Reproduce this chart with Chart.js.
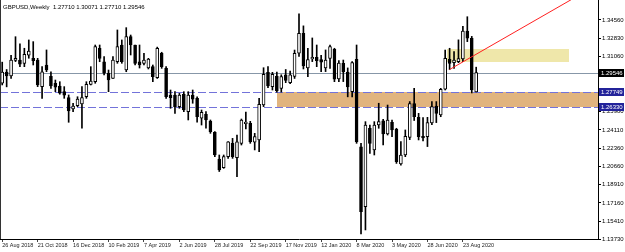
<!DOCTYPE html>
<html>
<head>
<meta charset="utf-8">
<script src="https://cdn.jsdelivr.net/npm/chart.js@4.4.0/dist/chart.umd.min.js"></script>
<style>
  html, body { margin: 0; padding: 0; background: #fff; }
  canvas { display: block; }
</style>
</head>
<body>
<canvas id="chart" width="625" height="252"></canvas>
<script>
const symbolTitle = "GBPUSD,Weekly";

// one label every 8 weeks, first week = 26 Aug 2018
const tickLabels = [
  "26 Aug 2018", "21 Oct 2018", "16 Dec 2018", "10 Feb 2019", "7 Apr 2019",
  "2 Jun 2019", "28 Jul 2019", "22 Sep 2019", "17 Nov 2019", "12 Jan 2020",
  "8 Mar 2020", "3 May 2020", "28 Jun 2020", "23 Aug 2020"
];

const opens = [
  1.2855, 1.2960, 1.2925, 1.3072, 1.3075, 1.3044, 1.3122, 1.3092, 1.3075, 1.2822,
  1.3028, 1.2919, 1.2854, 1.2828, 1.2774, 1.2717, 1.2609, 1.2641, 1.2657, 1.2727,
  1.2844, 1.2869, 1.3187, 1.3059, 1.2949, 1.2901, 1.3059, 1.3218, 1.2980, 1.3297,
  1.3218, 1.3059, 1.3044, 1.3000, 1.3012, 1.2907, 1.3139, 1.2996, 1.2742, 1.2742,
  1.2631, 1.2750, 1.2584, 1.2742, 1.2711, 1.2521, 1.2559, 1.2495, 1.2388, 1.2134,
  1.2051, 1.2156, 1.2283, 1.2146, 1.2283, 1.2470, 1.2473, 1.2293, 1.2315, 1.2648,
  1.2958, 1.2822, 1.2923, 1.2806, 1.2935, 1.2860, 1.2920, 1.3140, 1.3330, 1.2999,
  1.3085, 1.3100, 1.3080, 1.2999, 1.3091, 1.3177, 1.2895, 1.3044, 1.2960, 1.2775,
  1.3082, 1.2250, 1.1680, 1.2426, 1.2220, 1.2457, 1.2498, 1.2372, 1.2483, 1.2416,
  1.2086, 1.2172, 1.2340, 1.2660, 1.2530, 1.2350, 1.2346, 1.2476, 1.2638, 1.2553,
  1.2797, 1.3082, 1.3050, 1.3060, 1.3085, 1.3350, 1.3282, 1.27710
];
const highs = [
  1.3055, 1.2985, 1.3120, 1.3297, 1.3230, 1.3187, 1.3266, 1.3250, 1.3091, 1.3012,
  1.3171, 1.2964, 1.2885, 1.2869, 1.2822, 1.2743, 1.2664, 1.2726, 1.2822, 1.2869,
  1.3012, 1.3218, 1.3218, 1.3107, 1.2980, 1.3107, 1.3361, 1.3266, 1.3383, 1.3313,
  1.3218, 1.3218, 1.3139, 1.3091, 1.3028, 1.3198, 1.3149, 1.3012, 1.2790, 1.2774,
  1.2758, 1.2774, 1.2774, 1.2790, 1.2726, 1.2600, 1.2584, 1.2505, 1.2394, 1.2172,
  1.2172, 1.2300, 1.2330, 1.2362, 1.2514, 1.2580, 1.2492, 1.2378, 1.2711, 1.3002,
  1.3012, 1.2958, 1.2960, 1.2935, 1.2985, 1.2970, 1.3170, 1.3515, 1.3400, 1.3187,
  1.3285, 1.3218, 1.3120, 1.3171, 1.3218, 1.3187, 1.3070, 1.3075, 1.3000, 1.3060,
  1.3218, 1.2283, 1.2489, 1.2457, 1.2489, 1.2664, 1.2511, 1.2647, 1.2505, 1.2426,
  1.2300, 1.2410, 1.2680, 1.2806, 1.2568, 1.2527, 1.2530, 1.2680, 1.2680, 1.2806,
  1.3170, 1.3187, 1.3155, 1.3267, 1.3395, 1.3487, 1.3300, 1.30071
];
const lows = [
  1.2838, 1.2820, 1.2900, 1.3060, 1.3012, 1.3012, 1.3092, 1.3028, 1.2822, 1.2711,
  1.2964, 1.2806, 1.2774, 1.2750, 1.2711, 1.2483, 1.2584, 1.2631, 1.2426, 1.2711,
  1.2838, 1.2854, 1.3059, 1.2933, 1.2774, 1.2901, 1.3044, 1.3044, 1.2964, 1.3123,
  1.3028, 1.2999, 1.3028, 1.2990, 1.2869, 1.2900, 1.2996, 1.2711, 1.2616, 1.2568,
  1.2616, 1.2584, 1.2505, 1.2664, 1.2483, 1.2457, 1.2426, 1.2378, 1.2156, 1.2015,
  1.2045, 1.2140, 1.2140, 1.1966, 1.2267, 1.2420, 1.2283, 1.2220, 1.2203, 1.2632,
  1.2812, 1.2790, 1.2770, 1.2770, 1.2860, 1.2850, 1.2900, 1.3110, 1.2990, 1.2917,
  1.3060, 1.3012, 1.2965, 1.2965, 1.2996, 1.2869, 1.2870, 1.2870, 1.2725, 1.2725,
  1.2283, 1.1421, 1.1459, 1.2188, 1.2172, 1.2426, 1.2267, 1.2362, 1.2346, 1.2092,
  1.2076, 1.2156, 1.2318, 1.2500, 1.2315, 1.2305, 1.2252, 1.2460, 1.2480, 1.2536,
  1.2790, 1.2985, 1.2996, 1.3050, 1.3060, 1.3250, 1.2762, 1.27710
];
const closes = [
  1.2960, 1.2925, 1.3075, 1.3092, 1.3035, 1.3130, 1.3160, 1.3069, 1.2838, 1.2964,
  1.2980, 1.2828, 1.2816, 1.2759, 1.2742, 1.2590, 1.2637, 1.2704, 1.2719, 1.2844,
  1.2874, 1.3202, 1.3091, 1.2949, 1.2885, 1.3075, 1.3202, 1.3059, 1.3297, 1.3218,
  1.3044, 1.3028, 1.3075, 1.3085, 1.2917, 1.3187, 1.3012, 1.2726, 1.2717, 1.2631,
  1.2742, 1.2600, 1.2742, 1.2704, 1.2536, 1.2578, 1.2505, 1.2394, 1.2172, 1.2029,
  1.2156, 1.2298, 1.2156, 1.2298, 1.2505, 1.2485, 1.2298, 1.2346, 1.2654, 1.2939,
  1.2828, 1.2939, 1.2781, 1.2917, 1.2880, 1.2935, 1.3139, 1.3330, 1.3020, 1.3080,
  1.3100, 1.3070, 1.3055, 1.3075, 1.3202, 1.2892, 1.3045, 1.2964, 1.2820, 1.3050,
  1.2298, 1.1632, 1.2457, 1.2283, 1.2457, 1.2489, 1.2372, 1.2505, 1.2410, 1.2108,
  1.2172, 1.2350, 1.2660, 1.2536, 1.2346, 1.2335, 1.2480, 1.2632, 1.2568, 1.2797,
  1.3091, 1.3044, 1.3075, 1.3090, 1.3350, 1.3282, 1.2790, 1.29546
];

// right price axis
const yTicks = [1.13730, 1.15410, 1.17160, 1.18910, 1.20660, 1.22360, 1.24110,
  1.25900, 1.27590, 1.29310, 1.31060, 1.32830, 1.34560];
const yMin = 1.1373;
const yMax = 1.3646;

// drawn objects
const levelLines = [1.27749, 1.26330];
const orangeZone = { from: 62.1, top: 1.27749, bottom: 1.26330 };
const yellowZone = { from: 100.4, to: 127.9, top: 1.3177, bottom: 1.3053 };
const trendLine = { i1: 101, p1: 1.2985, i2: 106, p2: 1.3106 };

const totalSlots = 135; // weeks incl. empty space on the right
const slots = [];
for (let i = 0; i < totalSlots; i++) {
  slots.push(i % 8 === 0 && tickLabels[i / 8] ? tickLabels[i / 8] : "");
}

const FONT = "'Liberation Sans', Arial, sans-serif";
const last = closes.length - 1;

const overlay = {
  id: "overlay",
  beforeDatasetsDraw(chart) {
    const { ctx, chartArea: a, scales: { x, y } } = chart;
    ctx.save();
    ctx.beginPath();
    ctx.rect(a.left, a.top, a.right - a.left, a.bottom - a.top);
    ctx.clip();

    // zones
    let x0 = x.getPixelForValue(orangeZone.from);
    let t = Math.round(y.getPixelForValue(orangeZone.top));
    let b = Math.round(y.getPixelForValue(orangeZone.bottom));
    ctx.fillStyle = "#e1b47e";
    ctx.fillRect(Math.round(x0), t, a.right - Math.round(x0), b - t);

    x0 = Math.round(x.getPixelForValue(yellowZone.from));
    const x1 = Math.round(x.getPixelForValue(yellowZone.to));
    t = Math.round(y.getPixelForValue(yellowZone.top));
    b = Math.round(y.getPixelForValue(yellowZone.bottom));
    ctx.fillStyle = "#efe7aa";
    ctx.fillRect(x0, t, x1 - x0, b - t);

    // last price line
    const py = Math.round(y.getPixelForValue(closes[last])) + 0.5;
    ctx.strokeStyle = "#8797a8";
    ctx.lineWidth = 1;
    ctx.beginPath();
    ctx.moveTo(a.left, py);
    ctx.lineTo(a.right, py);
    ctx.stroke();

    // dashed levels
    ctx.strokeStyle = "#7373da";
    ctx.setLineDash([8, 3]);
    levelLines.forEach(v => {
      const ly = Math.round(y.getPixelForValue(v)) + 0.5;
      ctx.beginPath();
      ctx.moveTo(a.left, ly);
      ctx.lineTo(a.right, ly);
      ctx.stroke();
    });
    ctx.restore();
  },
  afterDatasetsDraw(chart) {
    const { ctx, chartArea: a, scales: { x, y } } = chart;
    ctx.save();
    ctx.beginPath();
    ctx.rect(a.left, a.top, a.right - a.left, a.bottom - a.top);
    ctx.clip();

    // trend line as a ray
    const ax = x.getPixelForValue(trendLine.i1), ay = y.getPixelForValue(trendLine.p1);
    const bx = x.getPixelForValue(trendLine.i2), by = y.getPixelForValue(trendLine.p2);
    const k = (by - ay) / (bx - ax);
    ctx.strokeStyle = "#ff2020";
    ctx.lineWidth = 1;
    ctx.beginPath();
    ctx.moveTo(ax, ay);
    ctx.lineTo(a.right, ay + k * (a.right - ax));
    ctx.stroke();

    // left frame
    ctx.strokeStyle = "#333";
    ctx.beginPath();
    ctx.moveTo(a.left + 0.5, a.top);
    ctx.lineTo(a.left + 0.5, a.bottom);
    ctx.stroke();

    // title
    ctx.fillStyle = "#000";
    ctx.font = "6px " + FONT;
    ctx.textBaseline = "middle";
    const ohlc = [opens[last], highs[last], lows[last], closes[last]].map(v => v.toFixed(5)).join(" ");
    ctx.fillText(symbolTitle + "  " + ohlc, 3, 7);
    ctx.restore();
  },
  afterDraw(chart) {
    const { ctx, chartArea: a, scales: { y } } = chart;
    ctx.save();
    ctx.font = "6px " + FONT;
    ctx.textBaseline = "middle";
    const tag = (v, bg) => {
      const ty = y.getPixelForValue(v);
      ctx.fillStyle = bg;
      ctx.fillRect(a.right + 1, Math.round(ty) - 4, 25, 8);
      ctx.fillStyle = "#fff";
      ctx.fillText(v.toFixed(5), a.right + 3, ty + 0.5);
    };
    levelLines.forEach(v => tag(v, "#23239a"));
    tag(closes[last], "#000");
    ctx.restore();
  }
};

new Chart(document.getElementById("chart"), {
  type: "bar",
  data: {
    labels: slots,
    datasets: [
      {
        data: opens.map((o, i) => [o, closes[i]]),
        barThickness: 3,
        backgroundColor: opens.map((o, i) => closes[i] >= o ? "#ffffff" : "#000000"),
        borderColor: "#000",
        borderWidth: 1,
        borderSkipped: false,
        minBarLength: 1,
        grouped: false,
        order: 0
      },
      {
        data: lows.map((l, i) => [l, highs[i]]),
        barThickness: 1,
        backgroundColor: "#000",
        borderWidth: 0,
        grouped: false,
        order: 1
      }
    ]
  },
  options: {
    responsive: false,
    animation: false,
    layout: { padding: 0 },
    plugins: { legend: { display: false }, tooltip: { enabled: false } },
    scales: {
      x: {
        type: "category",
        offset: true,
        grid: {
          offset: false,
          drawOnChartArea: false,
          tickLength: 3,
          color: c => (slots[c.index] ? "#444" : "rgba(0,0,0,0)")
        },
        border: { display: true, color: "#000" },
        ticks: {
          autoSkip: false,
          maxRotation: 0,
          minRotation: 0,
          align: "start",
          padding: 0,
          color: "#222",
          font: { size: 5.5, family: FONT },
          callback: (v, i) => slots[i]
        },
        afterFit: s => { s.height = 13; s.paddingLeft = 0; s.paddingRight = 0; }
      },
      y: {
        position: "right",
        min: yMin,
        max: yMax,
        afterBuildTicks: s => { s.ticks = yTicks.map(v => ({ value: v })); },
        grid: { drawOnChartArea: false, tickLength: 3, color: "#000" },
        border: { display: true, color: "#000" },
        ticks: {
          padding: 1,
          color: "#000",
          font: { size: 6, family: FONT },
          callback: v => v.toFixed(5)
        },
        afterFit: s => { s.width = 27; s.paddingTop = 0; s.paddingBottom = 0; }
      }
    }
  },
  plugins: [overlay]
});
</script>
</body>
</html>
